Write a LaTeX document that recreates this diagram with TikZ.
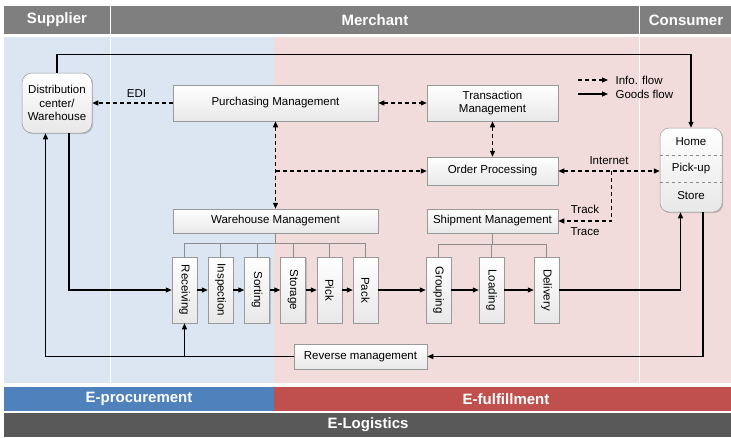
\documentclass[tikz,border=0pt]{standalone}
\usepackage{fontspec}
\setmainfont{Liberation Sans}
\usetikzlibrary{arrows.meta,shadows,calc}
\definecolor{hdrgray}{HTML}{7F7F7F}
\definecolor{bgblue}{HTML}{DCE6F2}
\definecolor{bgpink}{HTML}{F2DCDB}
\definecolor{barblue}{HTML}{4F81BD}
\definecolor{barred}{HTML}{C0504D}
\definecolor{bardark}{HTML}{595959}
\tikzset{
  box/.style={draw=black!40, line width=0.5pt, top color=white, bottom color=black!9,
    drop shadow={shadow xshift=1.2pt, shadow yshift=-1.2pt, opacity=0.3, fill=black!60},
    font=\fontsize{11.5}{13.5}\selectfont, inner sep=1pt, align=center},
  vbox/.style={box, minimum width=25pt, minimum height=66pt},
  goods/.style={line width=1.2pt, -{Triangle[length=6pt,width=5pt]}},
  info/.style={line width=1.2pt, dash pattern=on 4pt off 3pt, -{Triangle[length=6pt,width=5pt]}},
  infob/.style={info, {Triangle[length=6pt,width=5pt]}-{Triangle[length=6pt,width=5pt]}},
  tree/.style={draw=black!45, line width=0.7pt},
  lbl/.style={font=\fontsize{11.5}{13.5}\selectfont, inner sep=1pt},
  hdrtxt/.style={text=white, font=\fontsize{15}{17}\selectfont\bfseries},
}
\begin{document}
\begin{tikzpicture}[x=1pt,y=-1pt]
\useasboundingbox (0,0) rectangle (731,437);
% header
\fill[hdrgray] (4,6) rectangle (731,34);
\draw[white, line width=1.2pt] (110.5,6) -- (110.5,34) (639.5,6) -- (639.5,34);
\node[hdrtxt] (hSup) at (57,20) {Supplier};
\node[hdrtxt] (hMer) at (375,20) {Merchant};
\node[hdrtxt] (hCon) at (686,20) {Consumer};
% background
\fill[bgblue] (4,37) rectangle (274,383);
\fill[bgpink] (274,37) rectangle (731,383);
\draw[white, line width=0.8pt] (110.5,37) -- (110.5,383) (639.5,37) -- (639.5,383);
% bottom bars
\fill[barblue] (4,387) rectangle (274,411);
\fill[barred] (274,387) rectangle (731,411);
\fill[bardark] (4,413) rectangle (731,437);
\node[hdrtxt] (bProc) at (139,399) {E-procurement};
\node[hdrtxt] (bFul) at (506,399) {E-fulfillment};
\node[hdrtxt] (bLog) at (368,425) {E-Logistics};

% nodes
\node[box, rounded corners=10pt, minimum width=70pt, minimum height=60pt] (dc) at (57,103) {Distribution\\center/\\Warehouse};
\node[box, minimum width=205pt, minimum height=36pt] (pm) at (275.5,103) {Purchasing Management};
\node[box, minimum width=131pt, minimum height=36pt] (tm) at (492.5,103) {Transaction\\Management};
\node[box, minimum width=131pt, minimum height=28pt] (op) at (492.5,171) {Order Processing};
\node[box, minimum width=205pt, minimum height=24pt] (wm) at (275.5,221) {Warehouse Management};
\node[box, minimum width=131pt, minimum height=24pt] (sm) at (492.5,221) {Shipment Management};
\node[box, rounded corners=9pt, minimum width=62pt, minimum height=84pt] (cons) at (691,170) {};
\node[lbl] (cHome) at (691,142) {Home};
\node[lbl] (cPick) at (691,169) {Pick-up};
\node[lbl] (cStore) at (691,196) {Store};
\draw[black!45, dashed, line width=0.5pt] (cons.west |- 0,155.5) -- (cons.east |- 0,155.5);
\draw[black!45, dashed, line width=0.5pt] (cons.west |- 0,182.5) -- (cons.east |- 0,182.5);

\node[vbox] (rec) at (184.5,290) {\rotatebox{-90}{Receiving}};
\node[vbox] (ins) at (220.5,290) {\rotatebox{-90}{Inspection}};
\node[vbox] (sor) at (257,290) {\rotatebox{-90}{Sorting}};
\node[vbox] (sto) at (293,290) {\rotatebox{-90}{Storage}};
\node[vbox] (pik) at (329.5,290) {\rotatebox{-90}{Pick}};
\node[vbox] (pak) at (365.5,290) {\rotatebox{-90}{Pack}};
\node[vbox] (grp) at (438.5,290) {\rotatebox{-90}{Grouping}};
\node[vbox] (lod) at (491.5,290) {\rotatebox{-90}{Loading}};
\node[vbox] (del) at (546.5,290) {\rotatebox{-90}{Delivery}};
\node[box, minimum width=133pt, minimum height=25pt] (rev) at (360.5,356.5) {Reverse management};

% trees
\draw[tree] (wm.south) -- ++(0,11);
\draw[tree] (rec.north) -- ++(0,-13) -| (pak.north);
\draw[tree] (ins.north) -- ++(0,-13);
\draw[tree] (sor.north) -- ++(0,-13);
\draw[tree] (sto.north) -- ++(0,-13);
\draw[tree] (pik.north) -- ++(0,-13);
\draw[tree] (sm.south) -- ++(0,12);
\draw[tree] (grp.north) -- ++(0,-12) -| (del.north);
\draw[tree] (lod.north) -- ++(0,-12);

% info flows
\draw[info] (pm.west) -- (dc.east) node[lbl, pos=0.45, above=4pt] (tEDI) {EDI};
\draw[infob] (pm.east) -- (tm.west);
\draw[infob] (tm.south) -- (op.north);
\draw[infob] (pm.south) -- (wm.north);
\coordinate (jw) at (pm.south |- op.west);
\draw[info] (jw) -- (op.west);
\coordinate (cw) at (op.east -| cons.west);
\draw[infob] (op.east) -- (cw) node[lbl, pos=0.5, above=5pt] (tInt) {Internet};
\coordinate (jt) at ($(op.east)+(53.5,0)$);
\draw[info] (jt) |- (sm.east) node[lbl, pos=0.75, above=6pt] (tTrack) {Track} node[lbl, pos=0.75, below=5pt] (tTrace) {Trace};

% goods flows
\coordinate (dcL) at ($(dc.south)+(-11.5,0)$);
\coordinate (dcR) at ($(dc.south)+(12,0)$);
\coordinate (csL) at ($(cons.south)+(-10.5,0)$);
\coordinate (csR) at ($(cons.south)+(12,0)$);
\draw[goods] (dc.north) -- ++(0,-18) -| (cons.north);
\draw[goods] (dcR) |- (rec.west);
\draw[goods] (rec) -- (ins);
\draw[goods] (ins) -- (sor);
\draw[goods] (sor) -- (sto);
\draw[goods] (sto) -- (pik);
\draw[goods] (pik) -- (pak);
\draw[goods] (pak) -- (grp);
\draw[goods] (grp) -- (lod);
\draw[goods] (lod) -- (del);
\draw[goods] (del.east) -| (csL);
\draw[goods] (csR) |- (rev.east);
\draw[goods] (rev.west) -| (dcL);
\draw[goods] (rec.south |- rev.west) -- (rec.south);

% legend
\coordinate (lgA1) at (578,80);
\coordinate (lgA2) at (608,80);
\coordinate (lgB1) at (578,94);
\coordinate (lgB2) at (608,94);
\draw[info] (lgA1) -- (lgA2) node[lbl, right=6pt] (tInfo) {Info. flow};
\draw[goods] (lgB1) -- (lgB2) node[lbl, right=6pt] (tGoods) {Goods flow};
\end{tikzpicture}
\end{document}
